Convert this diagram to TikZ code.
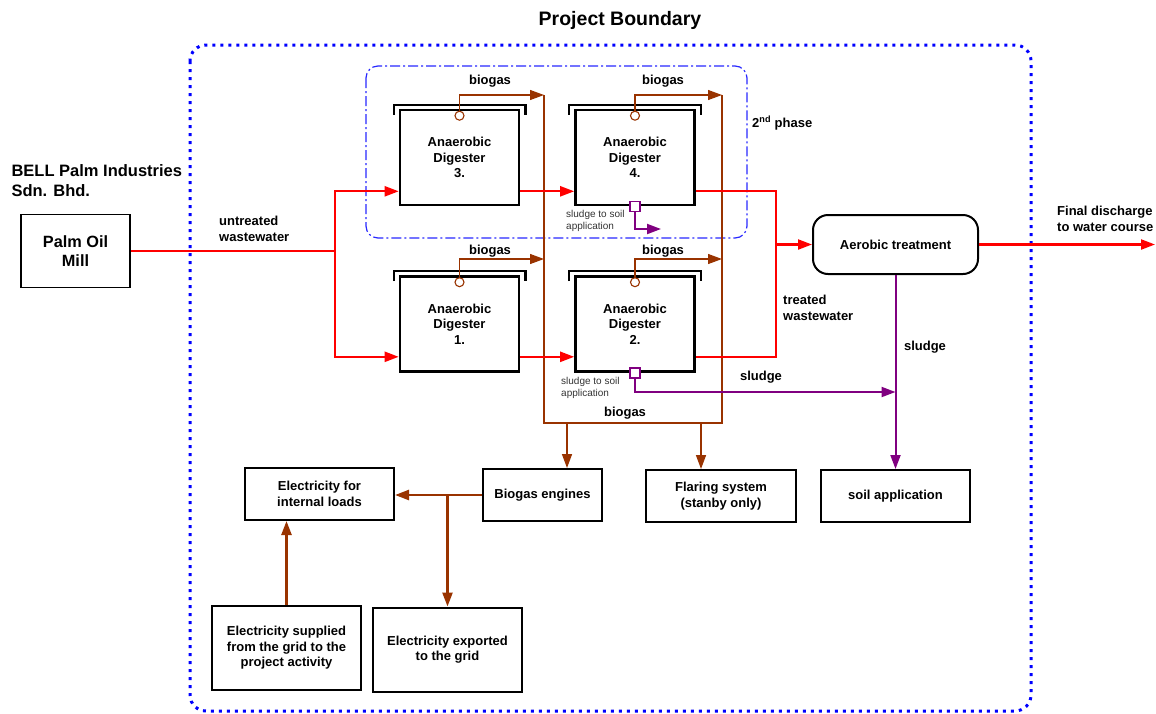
\documentclass[tikz,border=0pt]{standalone}
\usepackage{fontspec}
\setmainfont{Liberation Sans}
\usetikzlibrary{arrows.meta, positioning, calc}
\definecolor{waterred}{RGB}{255,0,0}
\definecolor{gasbrown}{RGB}{153,51,0}
\definecolor{sludgepurple}{RGB}{128,0,128}
\definecolor{boundblue}{RGB}{0,0,255}
\definecolor{phaseblue}{RGB}{40,40,255}

\begin{document}
\begin{tikzpicture}[
    x=1pt, y=-1pt,
    >={Triangle[length=14pt, width=10pt]},
    txt/.style={font=\bfseries\fontsize{13}{15.5}\selectfont, align=center, inner sep=0pt},
    smalltxt/.style={font=\fontsize{10}{11.5}\selectfont, text=black!80, align=left, inner sep=0pt},
    box/.style={txt, draw, line width=2pt},
    digester/.style={box, line width=2.6pt, minimum width=119pt, minimum height=95pt},
    water/.style={draw=waterred, line width=2.2pt},
    gas/.style={draw=gasbrown, line width=1.1pt},
    power/.style={draw=gasbrown, line width=2.4pt},
    sludge/.style={draw=sludgepurple, line width=2pt},
    gasport/.style={circle, draw=gasbrown, fill=white, line width=1.1pt, minimum size=9pt, inner sep=0pt},
    sludgeport/.style={rectangle, draw=sludgepurple, fill=white, line width=1.6pt, minimum size=10pt, inner sep=0pt},
]
    \useasboundingbox (0,0) rectangle (1156,713);

    \draw[boundblue, line width=3pt, dash pattern=on 3pt off 5pt, rounded corners=16pt] (190,45) rectangle (1031,711);
    \draw[phaseblue, line width=1.2pt, dash pattern=on 10pt off 3pt on 2pt off 3pt, rounded corners=12pt] (366,66) rectangle (747,238);
    \node[font=\bfseries\fontsize{19.5}{22}\selectfont] (title) at (620,20) {Project Boundary};
    \node[txt, anchor=west] (phase) at (752,123) {2\textsuperscript{nd} phase};

    \node[anchor=west, align=left, font=\bfseries\fontsize{16.5}{20}\selectfont] (company) at (8,181) {BELL Palm Industries\\Sdn. Bhd.};
    \node[box, line width=1.2pt, minimum width=109pt, minimum height=73pt, font=\bfseries\fontsize{16.3}{19}\selectfont] (mill) at (75.5,251) {Palm Oil\\Mill};

    \node[digester] (dig3) at (459.5,157.5) {Anaerobic\\Digester\\3.};
    \node[digester] (dig4) at (635,157.5) {Anaerobic\\Digester\\4.};
    \node[digester] (dig1) at (459.5,324) {Anaerobic\\Digester\\1.};
    \node[digester] (dig2) at (635,324) {Anaerobic\\Digester\\2.};
    \foreach \d in {dig1,dig2,dig3,dig4}
        \draw[line width=2.4pt] ([xshift=-5pt,yshift=-6pt]\d.north west) -- ([xshift=-5pt,yshift=4pt]\d.north west)
            -- ([xshift=5pt,yshift=4pt]\d.north east) -- ([xshift=5pt,yshift=-6pt]\d.north east);
    \foreach \d/\g in {dig1/port1,dig2/port2,dig3/port3,dig4/port4}
        \node[gasport] (\g) at ([yshift=-7pt]\d.north) {};

    \node[box, rounded corners=15pt, minimum width=165pt, minimum height=59pt] (aero) at (895.5,244.5) {Aerobic treatment};
    \node[box, minimum width=119pt, minimum height=52pt] (engine) at (542.5,495) {Biogas engines};
    \node[box, minimum width=150pt, minimum height=52pt] (flare) at (721,496) {Flaring system\\(stanby only)};
    \node[box, minimum width=149pt, minimum height=52pt] (soil) at (895.5,496) {soil application};
    \node[box, minimum width=149pt, minimum height=52pt] (internal) at (319.5,494) {Electricity for\\internal loads};
    \node[box, minimum width=149pt, minimum height=84pt] (export) at (447.5,649.5) {Electricity exported\\to the grid};
    \node[box, minimum width=149pt, minimum height=84pt] (supply) at (286.5,648) {Electricity supplied\\from the grid to the\\project activity};

    \coordinate (busTL) at (544,95);
    \coordinate (busTR) at (722,95);
    \coordinate (busML) at (544,259);
    \coordinate (busMR) at (722,259);
    \coordinate (busBL) at (544,423);
    \coordinate (busBR) at (722,423);
    \coordinate (tapE) at (567,423);
    \coordinate (tapF) at (701,423);
    \draw[gas] (busTL) -- (busBL) -- (busBR) -- (busTR);
    \draw[gas, ->] (port3.north) |- (busTL);
    \draw[gas, ->] (port4.north) |- (busTR);
    \draw[gas, ->] (port1.north) |- (busML);
    \draw[gas, ->] (port2.north) |- (busMR);
    \draw[gas, line width=1.5pt, ->] (tapE) -- (tapE |- engine.north);
    \draw[gas, line width=1.5pt, ->] (tapF) -- (tapF |- flare.north);
    \node[txt] (gas3) at (490,81) {biogas};
    \node[txt] (gas4) at (663,81) {biogas};
    \node[txt] (gas1) at (490,251) {biogas};
    \node[txt] (gas2) at (663,251) {biogas};
    \node[txt] (gasall) at (625,413) {biogas};

    \coordinate (split) at (335,251);
    \coordinate (merge) at (776,244.5);
    \coordinate (outlet) at (1155,244.5);
    \draw[water] (mill.east) -- (split);
    \draw[water, ->] (split) |- ([yshift=15pt]dig3.south west);
    \draw[water, ->] (split) |- ([yshift=16pt]dig1.south west);
    \draw[water, ->] ([yshift=15pt]dig3.south east) -- ([yshift=15pt]dig4.south west);
    \draw[water, ->] ([yshift=16pt]dig1.south east) -- ([yshift=16pt]dig2.south west);
    \draw[water] ([yshift=15pt]dig4.south east) -| (merge);
    \draw[water] ([yshift=16pt]dig2.south east) -| (merge);
    \draw[water, ->] (merge) -- (aero.west);
    \draw[water, ->] (aero.east) -- (outlet);
    \node[txt, anchor=west, align=left] (untreated) at (219,229) {untreated\\wastewater};
    \node[txt, anchor=west, align=left] (treated) at (783,308) {treated\\wastewater};
    \node[txt, anchor=west, align=left] (final) at (1057,219) {Final discharge\\to water course};

    \node[sludgeport] (sq4) at (dig4.south) {};
    \node[sludgeport] (sq2) at (dig2.south) {};
    \coordinate (sq4end) at (661,229);
    \coordinate (sjoin) at (895.5,392);
    \draw[sludge, ->] (sq4.south) |- (sq4end);
    \draw[sludge, ->] (sq2.south) |- (sjoin);
    \draw[sludge, ->] (aero.south) -- (soil.north);
    \node[smalltxt, anchor=west] (soil4) at (566,221) {sludge to soil\\application};
    \node[smalltxt, anchor=west] (soil2) at (561,388) {sludge to soil\\application};
    \node[txt] (sludgeA) at (761,377) {sludge};
    \node[txt] (sludgeB) at (925,347) {sludge};

    \draw[power, ->] (engine.west) -- (engine.west -| internal.east);
    \draw[power, ->] (engine.west -| export.north) -- (export.north);
    \draw[power, ->] (supply.north) -- (supply.north |- internal.south);
\end{tikzpicture}
\end{document}
